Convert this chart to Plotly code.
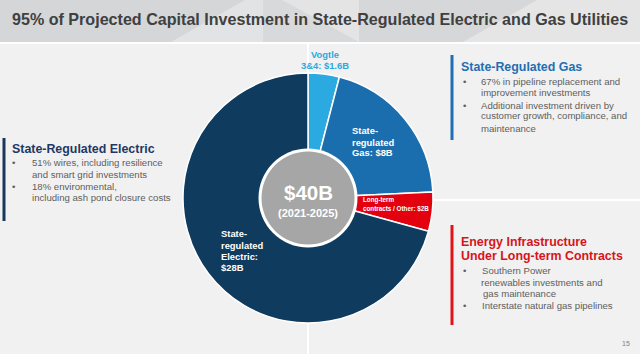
import plotly.graph_objects as go

# ---------------- data ----------------
categories = ["Vogtle 3&4", "State-regulated Gas", "Long-term contracts / Other", "State-regulated Electric"]
values_bn = [1.6, 8, 2, 28]
total_label = "$40B"
period_label = "(2021-2025)"

title_text = "95% of Projected Capital Investment in State-Regulated Electric and Gas Utilities"

electric_title = "State-Regulated Electric"
electric_bullets = [["51% wires, including resilience", "and smart grid investments"],
                    ["18% environmental,", "including ash pond closure costs"]]
gas_title = "State-Regulated Gas"
gas_bullets = [["67% in pipeline replacement and", "improvement investments"],
               ["Additional investment driven by", "customer growth, compliance, and", "maintenance"]]
infra_title = ["Energy Infrastructure", "Under Long-term Contracts"]
infra_bullets = [["Southern Power", "renewables investments and", "gas maintenance"],
                 ["Interstate natural gas pipelines"]]
page_number = "15"

# ---------------- styles ----------------
W, H = 640, 354
FONT = "Arial, 'Liberation Sans', sans-serif"
slice_colors = ["#2BA9E1", "#1B6EAD", "#E3000F", "#0E3B5E"]
NAVY = "#1F3864"
BLUE = "#1F6FB2"
RED = "#D7141A"
GRAY_TXT = "#5E5E5E"
TITLE_SIZE = 16.1
HEAD_SIZE = 12.4
BODY_SIZE = 9.6
LABEL_SIZE = 9.4


def X(x):
    return x / W


def Y(y):
    return 1 - y / H


cx, cy, R = 308, 198, 125

fig = go.Figure()
fig.add_trace(go.Pie(
    labels=categories, values=values_bn, sort=False, direction="clockwise", rotation=0,
    hole=0.36, textinfo="none", hoverinfo="label+value",
    marker=dict(colors=slice_colors, line=dict(color="white", width=1.5)),
    domain=dict(x=[X(cx - R), X(cx + R)], y=[Y(cy + R), Y(cy - R)]),
))

shapes = []
# title bar
shapes.append(dict(type="rect", xref="paper", yref="paper", x0=0, x1=1, y0=Y(42), y1=1,
                   fillcolor="#D5D6D8", line=dict(width=0), layer="below"))


def poly(pts, color):
    d = "M " + " L ".join(f"{X(a)},{Y(b)}" for a, b in pts) + " Z"
    return dict(type="path", xref="paper", yref="paper", path=d, fillcolor=color,
                line=dict(width=0), layer="below")


shapes.append(poly([(171, 42), (245, 0), (263, 0), (263, 42)], "#E2E3E4"))
shapes.append(poly([(263, 0), (282, 0), (359, 42), (263, 42)], "#D8D9DA"))
shapes.append(poly([(282, 0), (359, 0), (359, 42)], "#E4E4E5"))
shapes.append(poly([(359, 0), (537, 0), (463, 42), (359, 42)], "#D6D7D8"))
shapes.append(poly([(537, 0), (640, 0), (640, 42), (463, 42)], "#E5E5E6"))
# white separator lines in background
for (x0, y0, x1, y1) in [(0, 43, 640, 43), (308, 44, 308, 73), (308, 323, 308, 354), (433, 200, 640, 200)]:
    shapes.append(dict(type="line", xref="paper", yref="paper", x0=X(x0), y0=Y(y0), x1=X(x1), y1=Y(y1),
                       line=dict(color="white", width=2), layer="below"))
# side bars
for (x, y0, y1, col) in [(4, 138, 221, "#1B365D"), (452, 55, 140, "#1F6FB2"), (452, 225, 325, "#E0121A")]:
    shapes.append(dict(type="rect", xref="paper", yref="paper", x0=X(x - 1.5), x1=X(x + 1.5), y0=Y(y1), y1=Y(y0),
                       fillcolor=col, line=dict(width=0), layer="below"))
# centre disc
for (r, col) in [(49.5, "white"), (46.5, "#A6A6A6")]:
    shapes.append(dict(type="circle", xref="paper", yref="paper", x0=X(cx - r), x1=X(cx + r),
                       y0=Y(cy + r), y1=Y(cy - r), fillcolor=col, line=dict(width=0), layer="above"))

ann = []


def txt(x, y, s, size, color, bold=False, anchor="left"):
    if bold:
        s = f"<b>{s}</b>"
    ann.append(dict(xref="paper", yref="paper", x=X(x), y=Y(y), text=s, showarrow=False,
                    xanchor=anchor, yanchor="middle", align=anchor,
                    font=dict(family=FONT, size=size, color=color)))


txt(10, 19, title_text, TITLE_SIZE, "#404040", bold=True)

# left block
txt(10, 149, electric_title, HEAD_SIZE, NAVY, bold=True)
ys = [[162, 174], [186, 198]]
for lines, yy in zip(electric_bullets, ys):
    txt(10, yy[0], "•", BODY_SIZE, GRAY_TXT)
    for s, y in zip(lines, yy):
        txt(30, y, s, BODY_SIZE, GRAY_TXT)

# gas block
txt(459, 67, gas_title, HEAD_SIZE, BLUE, bold=True)
ys = [[82, 93], [105, 116, 128]]
for lines, yy in zip(gas_bullets, ys):
    txt(461, yy[0], "•", BODY_SIZE, GRAY_TXT)
    for s, y in zip(lines, yy):
        txt(479, y, s, BODY_SIZE, GRAY_TXT)

# infrastructure block
for s, y in zip(infra_title, [242, 256]):
    txt(459, y, s, HEAD_SIZE, RED, bold=True)
ys = [[270, 282, 293], [305]]
xs = [[480, 479, 481], [480]]
for lines, yy, xx in zip(infra_bullets, ys, xs):
    txt(461, yy[0], "•", BODY_SIZE, GRAY_TXT)
    for s, y, x in zip(lines, yy, xx):
        txt(x, y, s, BODY_SIZE, GRAY_TXT)

# donut labels
txt(325, 55, "Vogtle", LABEL_SIZE, "#2BA9E1", bold=True, anchor="center")
txt(325, 66, f"3&4: ${values_bn[0]}B", LABEL_SIZE, "#2BA9E1", bold=True, anchor="center")
for s, y in zip(["State-", "regulated", f"Gas: ${values_bn[1]:g}B"], [130, 142, 153]):
    txt(350, y, s, LABEL_SIZE, "white", bold=True)
for s, y in zip(["Long-term", f"contracts / Other: ${values_bn[2]:g}B"], [200, 209]):
    txt(361, y, s, 6.3, "white", bold=True)
for s, y in zip(["State-", "regulated", "Electric:", f"${values_bn[3]:g}B"], [233, 245, 256, 267]):
    txt(219, y, s, LABEL_SIZE, "white", bold=True)

txt(cx, 192, total_label, 20.5, "white", bold=True, anchor="center")
txt(cx, 213, period_label, 11, "white", bold=True, anchor="center")

txt(626, 343, page_number, 7, "#7F7F7F", anchor="center")

fig.update_layout(width=W, height=H, margin=dict(l=0, r=0, t=0, b=0), showlegend=False,
                  paper_bgcolor="#F1F1F1", plot_bgcolor="#F1F1F1",
                  shapes=shapes, annotations=ann)
fig.write_html("out.html")
